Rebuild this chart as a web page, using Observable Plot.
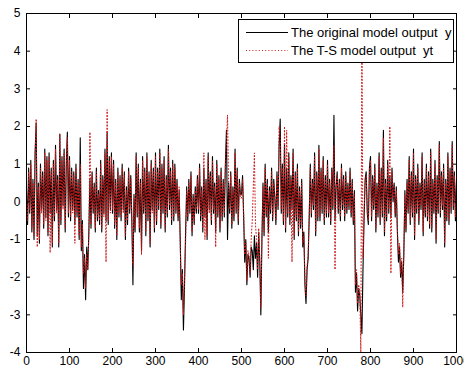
<!DOCTYPE html>
<html>
<head>
<meta charset="utf-8">
<script src="https://cdn.jsdelivr.net/npm/d3@7"></script>
<script src="https://cdn.jsdelivr.net/npm/@observablehq/plot@0.6"></script>
<style>
  html, body { margin: 0; padding: 0; background: #fff; }
  #chart svg { display: block; }
</style>
</head>
<body>
<div id="chart"></div>
<script>
// sample spacing along x
const xStep = 2.5;

// The original model output y (every 2.5 samples)
const yOrig = [
  0.3,-0.6,0.9,-0.3,1.1,-0.8,0.6,-1.0,1.3,2.1, -0.9,0.5,-1.1,1.0,-0.2,0.8,-0.7,1.4,-0.4,1.2,
  -0.9,1.3,-0.3,0.9,-1.2,1.1,-0.5,1.5,-0.2,0.7, -1.2,1.8,-0.6,1.2,-0.1,1.4,-0.8,1.0,1.85,-0.4,
  1.2,-0.5,0.9,-0.2,0.8,-0.6,1.0,-0.4,0.6,-1.0, 1.7,-1.3,-0.5,-2.3,-1.4,-2.6,-1.2,-1.8,-0.8,0.6,
  -0.7,0.8,-0.3,0.5,-0.8,0.9,-0.5,0.3,-0.6,1.1, -0.8,0.7,-0.3,1.4,-0.5,1.85,-0.6,1.2,-0.2,1.3,
  -0.3,1.1,-0.7,0.6,-1.0,0.9,-0.4,0.7,-0.5,1.0, -0.2,0.8,-1.0,0.4,-0.6,0.9,-0.3,0.7,-0.5,-2.2,
  0.2,-0.8,1.3,-0.4,1.0,-0.8,0.6,-1.3,1.2,-0.3, 0.9,-0.9,1.3,-0.5,0.8,-1.2,1.1,-0.2,0.9,-0.8,
  1.3,-0.6,0.9,-0.2,1.4,-0.7,1.0,-0.3,1.2,-0.8, 0.7,-0.4,1.5,-0.2,0.9,-0.6,1.1,-0.5,1.0,-0.3,
  0.6,-0.5,0.3,-1.0,-2.6,-1.8,-3.4,-2.2,-0.8,0.4, -0.5,0.6,-0.3,0.8,-0.9,0.2,-0.6,0.4,-0.3,0.7,
  -0.3,1.0,-0.5,0.4,-0.8,0.9,-0.4,0.6,-1.0,1.3, -0.2,0.8,-0.6,1.2,-0.3,0.5,-0.8,1.1,-0.4,0.7,
  -0.8,0.9,-0.5,0.6,-0.4,1.0,1.9,-1.0,0.5,-0.3, 0.8,-0.7,0.4,-0.5,1.4,-0.3,0.9,-0.6,0.6,0.2,
  0.2,0.7,-0.4,-1.6,-1.0,-2.2,-1.4,-1.5,-2.0,-1.2, -1.3,-1.8,-0.9,-1.5,-1.1,-2.0,-0.8,-1.6,-3.0,-1.0,
  0.5,-0.9,1.0,-0.4,0.6,-0.8,0.4,-0.3,0.9,-0.5, 0.6,0.1,-0.6,0.8,-0.2,1.5,2.2,-0.3,1.0,-0.6,
  1.5,-0.8,0.9,-0.4,1.3,-0.6,0.7,-0.2,1.4,-1.0, 0.8,-0.5,1.0,-0.9,0.4,-0.7,0.6,-1.2,-0.8,-2.2,
  -2.7,-1.8,-1.5,-0.4,1.0,-0.4,0.6,-0.2,1.3,-0.9, 0.8,-0.5,1.5,-0.5,0.9,-0.3,1.2,-0.6,0.7,-0.4,
  1.1,-0.4,0.6,-0.6,0.9,-0.2,2.3,-0.5,0.4,0.8, -0.3,0.6,-0.5,1.0,-0.2,0.7,-0.5,0.8,-0.3,0.5,
  -0.2,0.9,-0.4,0.6,-0.6,0.3,-2.4,-1.9,-2.9,-2.3, -2.5,-3.0,-3.5,-1.8,-0.5,0.6,0.8,-0.3,-0.6,0.9,
  1.2,-0.5,0.7,-0.2,1.0,-0.8,0.5,-0.4,1.3,-0.6, 0.9,-0.4,1.9,-0.9,0.6,-0.5,1.1,-0.3,0.7,-0.4,
  0.9,0.0,0.5,-0.4,0.4,-0.8,-1.6,-1.2,-2.0,-1.6, -2.4,-1.4,0.3,-0.8,0.6,-0.3,1.2,-0.6,0.8,-0.4,
  1.4,-1.0,0.7,-0.3,1.0,-0.6,0.5,-0.2,1.3,-0.9, 0.6,-0.4,1.0,-0.5,0.8,-0.7,1.4,-0.8,0.6,-0.3,
  1.1,-1.1,0.7,-0.3,1.6,-0.4,0.8,-0.2,1.0,-1.2, 0.6,-0.5,1.3,-0.6,0.9,-0.3,1.6,-0.2,0.8,-0.5,
  0.6
];

// The T-S model output yt (every 2.5 samples)
const yTS = [
  0.2,-0.5,0.8,-0.2,1.0,-0.7,0.5,-0.9,1.2,2.2, -1.2,0.4,-1.0,0.9,-0.3,0.7,-0.6,1.3,-0.5,1.1,
  -0.8,1.2,-1.35,0.8,-1.1,1.0,-0.4,1.4,-0.3,0.6, -1.1,1.8,-0.5,1.1,-0.2,1.3,-0.7,0.9,1.7,-0.3,
  1.1,-0.4,0.8,-0.3,0.7,-1.1,0.9,-0.3,0.5,-0.9, 1.0,-1.2,-0.6,-1.9,-1.5,-2.3,-1.4,-1.8,-0.9,1.85,
  -0.6,0.7,-0.2,0.4,-0.7,0.8,-0.4,0.2,-0.5,1.0, -0.7,0.6,-0.4,1.3,-1.6,2.45,-0.5,1.1,-0.3,1.2,
  -0.2,1.0,-0.6,0.5,-0.9,0.8,-0.3,0.6,-0.4,0.9, -0.3,0.7,-0.9,0.3,-0.5,0.8,-0.2,0.6,-0.4,-1.7,
  0.1,-0.7,1.2,-0.3,0.9,-0.7,0.5,-1.4,1.1,-0.2, 0.8,-0.8,1.2,-0.4,0.7,-1.1,1.0,-0.3,0.8,-0.7,
  1.2,-0.5,0.8,-0.1,1.3,-0.6,0.9,-0.2,1.1,-0.7, 0.6,-0.3,1.4,-0.1,0.8,-0.5,1.0,-0.4,0.9,-0.2,
  0.5,-0.4,0.4,-1.1,-2.2,-1.9,-3.0,-2.0,-1.1,0.3, -0.4,0.5,-0.2,0.7,-0.8,0.1,-0.5,0.3,-0.2,0.6,
  -0.2,0.9,-0.4,0.3,-0.7,1.3,-1.0,0.5,-0.9,1.2, -0.3,0.7,-0.5,1.1,-0.2,0.4,-1.2,1.0,-0.3,0.6,
  -0.7,0.8,-0.4,0.5,-0.3,0.9,1.6,2.3,0.4,-0.2, 0.7,-0.6,0.3,-0.4,1.3,-0.2,0.8,-0.5,0.5,0.1,
  0.1,0.6,-0.3,-1.4,-1.1,-2.1,-1.3,-1.4,-1.9,-1.0, -0.5,0.4,1.3,-0.6,-1.0,-1.8,-0.7,-1.5,-2.8,-0.9,
  0.4,-0.8,0.9,-0.3,0.5,-1.5,0.3,-0.2,0.8,-0.4, 0.5,0.2,-0.5,0.7,-0.1,2.0,1.6,-0.2,0.9,-0.5,
  2.0,-0.7,1.9,-0.3,1.2,-0.5,0.6,-1.6,1.3,-0.9, 0.7,-0.4,0.9,-0.8,0.3,-0.6,0.5,-1.1,-0.9,-2.0,
  -2.5,-1.7,-1.4,-0.3,0.9,-0.3,0.5,-0.1,1.2,-0.8, 0.7,-0.4,1.4,-0.4,0.8,-0.2,1.1,-0.5,0.6,-0.3,
  1.0,-0.3,0.5,-0.5,0.8,-0.1,1.5,-1.8,0.3,0.7, -0.2,0.5,-0.4,0.9,-0.1,0.6,-0.4,0.7,-0.2,0.4,
  -0.1,0.8,-0.3,0.5,-0.5,0.2,-2.2,-1.8,-2.7,-2.2, -2.4,-4.0,4.6,-1.5,-0.3,0.5,0.7,-0.2,-0.5,0.8,
  1.1,-0.4,0.6,-0.1,0.9,-0.7,0.4,-0.3,1.2,-0.5, 0.8,-0.3,1.7,-0.8,0.5,-0.4,1.0,-0.2,2.0,-1.9,
  0.8,0.1,0.4,-0.3,0.3,-0.7,-1.4,-1.1,-1.9,-1.5, -2.8,-1.3,0.2,-0.7,0.5,-0.2,1.1,-0.5,0.7,-0.3,
  1.3,-0.9,0.6,-0.2,0.9,-0.5,0.4,-0.1,1.2,-0.8, 0.5,-0.3,0.9,-0.4,0.7,-0.6,1.3,-0.7,0.5,-0.2,
  1.0,-1.0,0.6,-0.2,1.5,-0.3,0.7,-0.1,0.9,-1.1, 0.5,-0.4,1.2,-0.5,0.8,-0.2,1.5,-0.1,0.7,-0.4,
  0.5
];

const xTicks = [0, 100, 200, 300, 400, 500, 600, 700, 800, 900, 1000];
const yTicks = [-4, -3, -2, -1, 0, 1, 2, 3, 4, 5];
const legendLabels = ["The original model output  y", "The T-S model output  yt"];

const rows = yOrig.map((v, i) => ({ x: i * xStep, y: v, yt: yTS[i] }));

const redColor = "#cc1a1a";
const redDash = "1,2.2";

const chart = Plot.plot({
  width: 464,
  height: 370,
  marginLeft: 26,
  marginRight: 8,
  marginTop: 13,
  marginBottom: 18,
  style: { fontFamily: "'Liberation Sans', Arial, sans-serif", fontSize: "12px", background: "#fff", color: "#000" },
  x: { domain: [0, 1000] },
  y: { domain: [-4, 5] },
  marks: [
    Plot.line(rows, { x: "x", y: "y", stroke: "black", strokeWidth: 1.1, clip: true }),
    Plot.line(rows, { x: "x", y: "yt", stroke: redColor, strokeWidth: 1, strokeDasharray: redDash, clip: true }),
    Plot.frame({ stroke: "black", strokeWidth: 1 }),
    Plot.axisX(xTicks, { anchor: "bottom", tickSize: -4, tickPadding: 8, label: null, fontSize: 12, tickFormat: d => String(d) }),
    Plot.axisX(xTicks, { anchor: "top", tickSize: -4, tickFormat: () => "", label: null }),
    Plot.axisY(yTicks, { anchor: "left", tickSize: -4, tickPadding: 10, label: null, fontSize: 12, tickFormat: d => String(d) }),
    Plot.axisY(yTicks, { anchor: "right", tickSize: -4, tickFormat: () => "", label: null })
  ]
});

document.getElementById("chart").appendChild(chart);

// Legend box (inside the axes, top right, like MATLAB)
const svg = d3.select(chart);
const lg = svg.append("g")
  .attr("font-family", "'Liberation Sans', Arial, sans-serif")
  .attr("font-size", 13)
  .attr("text-anchor", "start");
lg.append("rect").attr("x", 238.5).attr("y", 19.5).attr("width", 215).attr("height", 43)
  .attr("fill", "white").attr("stroke", "black").attr("stroke-width", 1);
const styles = [
  { stroke: "black", dash: null },
  { stroke: redColor, dash: redDash }
];
legendLabels.forEach((t, i) => {
  const cy = 32 + i * 18;
  const ln = lg.append("line").attr("x1", 246).attr("x2", 288).attr("y1", cy + 0.5).attr("y2", cy + 0.5)
    .attr("stroke", styles[i].stroke).attr("stroke-width", 1);
  if (styles[i].dash) ln.attr("stroke-dasharray", styles[i].dash);
  lg.append("text").attr("x", 291).attr("y", cy).attr("dy", "0.35em").attr("fill", "black")
    .attr("text-anchor", "start")
    .style("white-space", "pre").text(t);
});
</script>
</body>
</html>
